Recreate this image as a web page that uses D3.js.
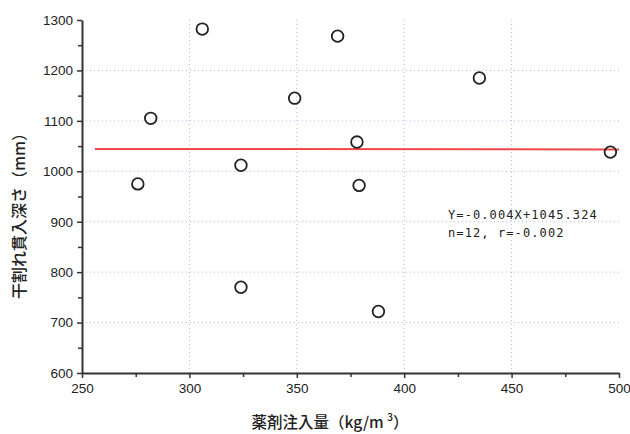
<!DOCTYPE html>
<html>
<head>
<meta charset="utf-8">
<script src="https://cdn.jsdelivr.net/npm/d3@7"></script>
<style>
  body { margin: 0; background: #fff; }
  .axis path, .axis line { stroke: #333; }
  .label { font-family: "Noto Sans CJK JP", sans-serif; fill: #222; font-weight: 500; }
  .stats { font-family: "DejaVu Sans Mono", monospace; font-size: 12px; fill: #222; }
</style>
</head>
<body>
<svg width="630" height="434"></svg>
<script>
// injection amount (kg/m3)
const dose = [276, 282, 306, 324, 324, 349, 369, 378, 379, 388, 435, 496];
// check penetration depth (mm)
const depth = [975, 1105, 1282, 1012, 770, 1145, 1268, 1058, 972, 722, 1185, 1038];

const xTicks = [250, 300, 350, 400, 450, 500];
const yTicks = [600, 700, 800, 900, 1000, 1100, 1200, 1300];
const fitSlope = -0.004, fitIntercept = 1045.324;
const fitRange = [256, 500];

const svg = d3.select('svg');
const margin = { top: 20, right: 11, bottom: 61, left: 82 };
const width = 630 - margin.left - margin.right;
const height = 434 - margin.top - margin.bottom;

const chart = svg.append('g')
  .attr('transform', `translate(${margin.left}, ${margin.top})`);

const xScale = d3.scaleLinear().domain([250, 500]).range([0, width]);
const yScale = d3.scaleLinear().domain([600, 1300]).range([height, 0]);

// grid (dotted)
chart.append('g')
  .selectAll('line')
  .data(yTicks.slice(1, -1))
  .enter()
  .append('line')
  .attr('x1', 0).attr('x2', width)
  .attr('y1', d => yScale(d)).attr('y2', d => yScale(d))
  .attr('stroke', '#b4b4ff').attr('stroke-width', 1)
  .attr('stroke-dasharray', '1,3');

chart.append('g')
  .selectAll('line')
  .data(xTicks.slice(1, -1))
  .enter()
  .append('line')
  .attr('x1', d => xScale(d)).attr('x2', d => xScale(d))
  .attr('y1', 0).attr('y2', height)
  .attr('stroke', '#b4b4ff').attr('stroke-width', 1)
  .attr('stroke-dasharray', '1,3');

// axes
const xAxis = chart.append('g')
  .attr('class', 'axis')
  .attr('transform', `translate(0, ${height})`)
  .call(d3.axisBottom(xScale).tickValues(xTicks).tickFormat(d3.format('d'))
    .tickSize(5).tickPadding(5).tickSizeOuter(0));
xAxis.select('.domain').attr('stroke-width', 2);
xAxis.selectAll('.tick line').attr('stroke-width', 1.5);

const xMinor = chart.append('g')
  .attr('class', 'axis')
  .attr('transform', `translate(0, ${height})`)
  .call(d3.axisBottom(xScale).tickValues(d3.range(275, 500, 50)).tickSize(4).tickFormat(''));
xMinor.select('.domain').remove();
xMinor.selectAll('.tick line').attr('stroke-width', 1.5);

const yAxis = chart.append('g')
  .attr('class', 'axis')
  .call(d3.axisLeft(yScale).tickValues(yTicks).tickFormat(d3.format('d'))
    .tickSize(5).tickPadding(4).tickSizeOuter(0));
yAxis.select('.domain').attr('stroke-width', 2);
yAxis.selectAll('.tick line').attr('stroke-width', 1.5);

const yMinor = chart.append('g')
  .attr('class', 'axis')
  .call(d3.axisLeft(yScale).tickValues(d3.range(650, 1300, 100)).tickSize(4).tickFormat(''));
yMinor.select('.domain').remove();
yMinor.selectAll('.tick line').attr('stroke-width', 1.5);

chart.selectAll('.axis')
  .attr('font-family', '"Liberation Sans", Arial, sans-serif')
  .attr('font-size', 13.5);
chart.selectAll('.tick text').attr('fill', '#222');

// regression line
chart.append('line')
  .attr('x1', xScale(fitRange[0]))
  .attr('x2', xScale(fitRange[1]))
  .attr('y1', yScale(fitIntercept + fitSlope * fitRange[0]))
  .attr('y2', yScale(fitIntercept + fitSlope * fitRange[1]))
  .attr('stroke', '#f04848')
  .attr('stroke-width', 2);

// points
chart.selectAll('circle.pt')
  .data(dose)
  .enter()
  .append('circle')
  .attr('class', 'pt')
  .attr('cx', d => xScale(d))
  .attr('cy', (d, i) => yScale(depth[i]))
  .attr('r', 5.8)
  .attr('fill', 'none')
  .attr('stroke', '#222')
  .attr('stroke-width', 1.8);

// fit stats
chart.append('text')
  .attr('class', 'stats')
  .attr('x', 366).attr('y', 199)
  .attr('letter-spacing', 1.1)
  .text('Y=-0.004X+1045.324');
chart.append('text')
  .attr('class', 'stats')
  .attr('x', 366).attr('y', 217)
  .attr('letter-spacing', 1.1)
  .text('n=12, r=-0.002');

// axis titles
svg.append('text')
  .attr('class', 'label')
  .attr('font-size', 16)
  .attr('transform', 'translate(25, 212) rotate(-90)')
  .attr('text-anchor', 'middle')
  .text('干割れ貫入深さ（mm）');

const xt = svg.append('text')
  .attr('class', 'label')
  .attr('font-size', 15.5)
  .attr('x', 330).attr('y', 428)
  .attr('text-anchor', 'middle');
xt.append('tspan').text('薬剤注入量（kg/m ');
xt.append('tspan').attr('font-size', 10).attr('dy', -7).text('3');
xt.append('tspan').attr('dy', 7).text('）');
</script>
</body>
</html>
